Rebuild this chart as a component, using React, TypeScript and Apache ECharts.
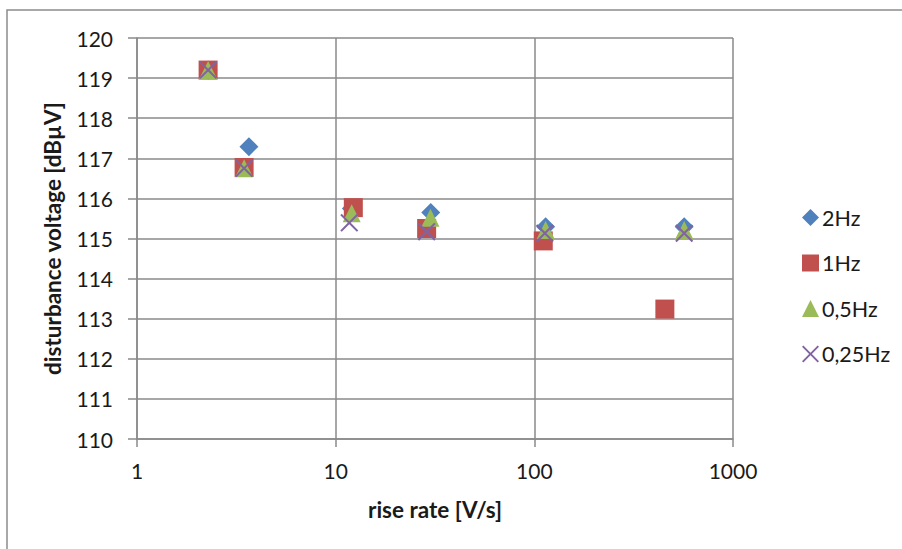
import React, { useEffect, useRef } from "react";
import * as echarts from "echarts";

// Rise rate [V/s] and disturbance voltage [dBµV] per test frequency
const seriesNames = ["2Hz", "1Hz", "0,5Hz", "0,25Hz"];

const rate2Hz = [2.28, 3.66, 12.0, 30.1, 114, 568];
const volt2Hz = [119.2, 117.29, 115.75, 115.65, 115.29, 115.29];

const rate1Hz = [2.28, 3.46, 12.27, 28.7, 110.9, 454];
const volt1Hz = [119.2, 116.77, 115.77, 115.25, 114.94, 113.24];

const rate05Hz = [2.28, 3.46, 12.04, 30.0, 114, 568];
const volt05Hz = [119.2, 116.75, 115.63, 115.52, 115.21, 115.21];

const rate025Hz = [2.28, 3.46, 11.71, 28.7, 113, 568];
const volt025Hz = [119.2, 116.75, 115.39, 115.17, 115.13, 115.13];

const xTicks = [1, 10, 100, 1000];
const yMin = 110;
const yMax = 120;

const colors = ["#4F81BD", "#C0504D", "#9BBB59", "#8064A2"];
const crossSymbol =
  "path://M0,1.6L1.6,0L10,8.4L18.4,0L20,1.6L11.6,10L20,18.4L18.4,20L10,11.6L1.6,20L0,18.4L8.4,10Z";
const symbols = ["diamond", "rect", "triangle", crossSymbol];
const symbolSizes = [19, 19, 18, 18];

const FONT = "Lato";
const GRID_COLOR = "#8a8a8a";
const TEXT_COLOR = "#1a1a1a";

function pairs(xs: number[], ys: number[]) {
  return xs.map((x, i) => [x, ys[i]]);
}

export default function App() {
  const ref = useRef<HTMLDivElement>(null);

  useEffect(() => {
    document.body.style.margin = "0";
    if (!ref.current) return;
    const chart = echarts.init(ref.current, null, { renderer: "svg" });

    const data = [
      pairs(rate2Hz, volt2Hz),
      pairs(rate1Hz, volt1Hz),
      pairs(rate05Hz, volt05Hz),
      pairs(rate025Hz, volt025Hz),
    ];

    const titleStyle = {
      fontFamily: FONT,
      fontSize: 22.5,
      fontWeight: "bold",
      color: TEXT_COLOR,
    };

    chart.setOption({
      animation: false,
      backgroundColor: "#ffffff",
      textStyle: { fontFamily: FONT },
      graphic: [
        {
          type: "rect",
          shape: { x: 7, y: 10, width: 1200, height: 1200 },
          style: { fill: "none", stroke: "#8c8c8c", lineWidth: 1.5 },
          silent: true,
          z: -1,
        },
      ],
      grid: { left: 137, top: 38, right: 169, bottom: 110 },
      legend: {
        orient: "vertical",
        left: 797,
        top: 201.5,
        itemWidth: 17,
        itemHeight: 17,
        itemGap: 23.5,
        data: seriesNames,
        textStyle: {
          fontFamily: FONT,
          fontSize: 21.5,
          color: TEXT_COLOR,
          lineHeight: 17,
          padding: [0, 0, 0, -2],
        },
      },
      xAxis: {
        type: "log",
        logBase: 10,
        min: xTicks[0],
        max: xTicks[xTicks.length - 1],
        name: "rise rate [V/s]",
        nameLocation: "middle",
        nameGap: 59,
        nameTextStyle: titleStyle,
        axisLine: { show: true, lineStyle: { color: GRID_COLOR, width: 1.5 } },
        axisTick: {
          show: true,
          inside: false,
          length: 8,
          lineStyle: { color: GRID_COLOR, width: 1.5 },
        },
        minorTick: { show: false },
        splitLine: { show: true, lineStyle: { color: GRID_COLOR, width: 1.5 } },
        axisLabel: {
          fontFamily: FONT,
          fontSize: 21,
          color: TEXT_COLOR,
          margin: 21,
          formatter: (v: number) => String(Math.round(v)),
        },
      },
      yAxis: {
        type: "value",
        min: yMin,
        max: yMax,
        interval: 1,
        name: "disturbance voltage [dBµV]",
        nameLocation: "middle",
        nameGap: 73,
        nameTextStyle: titleStyle,
        axisLine: { show: true, lineStyle: { color: GRID_COLOR, width: 1.5 } },
        axisTick: {
          show: true,
          inside: false,
          length: 9,
          lineStyle: { color: GRID_COLOR, width: 1.5 },
        },
        splitLine: { show: true, lineStyle: { color: GRID_COLOR, width: 1.5 } },
        axisLabel: {
          fontFamily: FONT,
          fontSize: 21,
          color: TEXT_COLOR,
          margin: 24,
        },
      },
      series: seriesNames.map((name, i) => ({
        name,
        type: "scatter",
        data: data[i],
        symbol: symbols[i],
        symbolSize: symbolSizes[i],
        itemStyle: { color: colors[i], opacity: 1 },
        z: 2 + i,
      })),
    });

    return () => chart.dispose();
  }, []);

  return <div ref={ref} style={{ width: 902, height: 549 }} />;
}
